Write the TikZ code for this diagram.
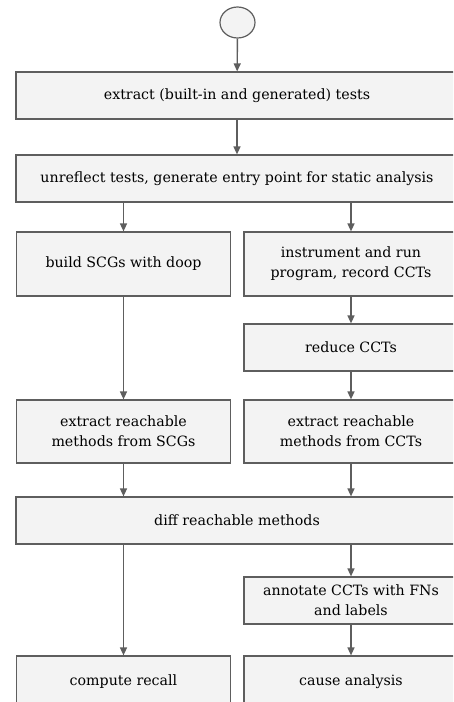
\documentclass[tikz,border=0pt]{standalone}
\usepackage{fontspec}
\setmainfont{DejaVu Serif}
\usetikzlibrary{arrows.meta,shapes.geometric}
\definecolor{boxfill}{HTML}{F3F3F3}
\definecolor{boxline}{HTML}{5E5E5E}
\begin{document}
\begin{tikzpicture}[
        x=1pt, y=-1pt,
        stepbox/.style={draw=boxline, fill=boxfill, line width=1.2pt,
            align=center, inner sep=0pt,
            font=\fontsize{14.2}{20}\selectfont},
        wide/.style={stepbox, minimum width=442pt, minimum height=47pt},
        half/.style={stepbox, minimum width=214pt, minimum height=#1},
        half/.default=47pt,
        arr/.style={draw=boxline, line width=1.4pt,
            -{Triangle[length=8pt, width=7pt]}}
        ]
    \useasboundingbox (0,0) rectangle (453,702);
    \clip (0,0) rectangle (453,702);

    \node [draw=boxline, fill=boxfill, line width=1.2pt, ellipse,
        minimum width=35pt, minimum height=31pt, inner sep=0pt] (start) at (237.5,22.5) {};

    \node [wide] (extract) at (237,95.5) {extract (built-in and generated) tests};
    \node [wide] (unreflect) at (237,178.5) {unreflect tests, generate entry point for static analysis};

    % static side
    \node [half=64pt] (scg) at (123.5,264) {build SCGs with doop};
    \node [half=63pt] (reachS) at (123.5,431.5) {extract reachable\\methods from SCGs};

    % dynamic side
    \node [half=64pt] (instr) at (351,264) {instrument and run\\program, record CCTs};
    \node [half] (reduce) at (351,347.5) {reduce CCTs};
    \node [half=63pt] (reachC) at (351,431.5) {extract reachable\\methods from CCTs};

    \node [wide] (diff) at (237,520.5) {diff reachable methods};
    \node [half] (annot) at (351,600.5) {annotate CCTs with FNs\\and labels};
    \node [half=52pt] (recall) at (123.5,682) {compute recall};
    \node [half=52pt] (cause) at (351,682) {cause analysis};

    \draw [arr] (start) -- (extract);
    \draw [arr] (extract) -- (unreflect);
    \draw [arr] (unreflect.south -| scg.north) -- (scg.north);
    \draw [arr] (unreflect.south -| instr.north) -- (instr.north);
    \draw [arr] (scg) -- (reachS);
    \draw [arr] (instr) -- (reduce);
    \draw [arr] (reduce) -- (reachC);
    \draw [arr] (reachS.south) -- (reachS.south |- diff.north);
    \draw [arr] (reachC.south) -- (reachC.south |- diff.north);
    \draw [arr] (diff.south -| recall.north) -- (recall.north);
    \draw [arr] (diff.south -| annot.north) -- (annot.north);
    \draw [arr] (annot) -- (cause);
\end{tikzpicture}
\end{document}
